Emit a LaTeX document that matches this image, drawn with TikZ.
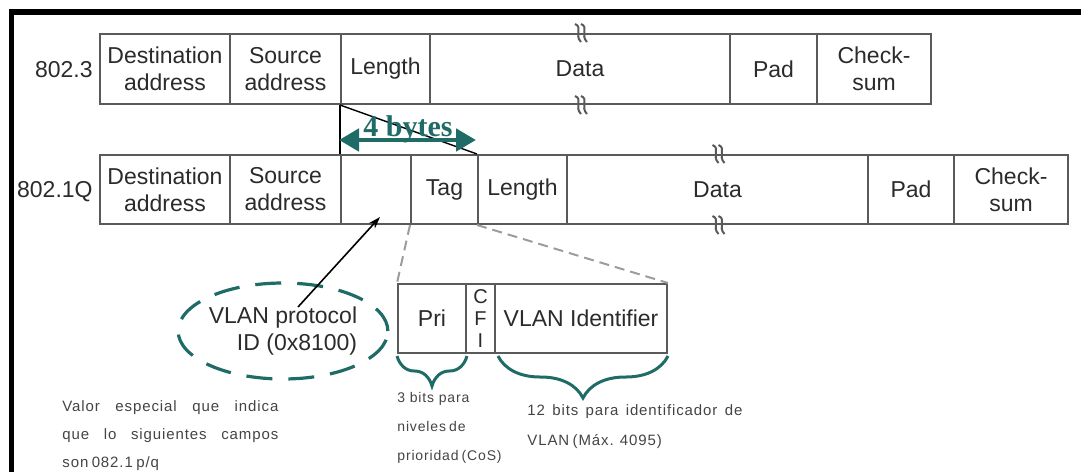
\documentclass[tikz,border=0pt]{standalone}
\usepackage{fontspec}
\setmainfont{Liberation Sans}
\newfontfamily\bytefont{Liberation Serif}
\newfontfamily\notefont[LetterSpace=6]{Liberation Sans}
\usepackage{tikz}
\usetikzlibrary{arrows.meta, positioning, shapes.geometric, decorations.pathreplacing}
\definecolor{tagteal}{HTML}{1F6B66}
\definecolor{fieldline}{HTML}{5A5A5A}
\definecolor{fieldtext}{HTML}{2B2B2B}
\definecolor{notetext}{HTML}{444444}
\definecolor{zoomgrey}{HTML}{9C9C9C}
\tikzset{
  field/.style={rectangle, draw=fieldline, line width=1pt, fill=white,
                inner sep=0pt, align=center, text=fieldtext,
                font=\fontsize{11.5}{13.5}\selectfont},
  row1/.style={field, minimum height=35pt},
  row2/.style={field, minimum height=34.5pt},
  rowlab/.style={anchor=east, inner sep=0pt, text=fieldtext,
                 font=\fontsize{11.5}{13.5}\selectfont},
  brk/.style={line width=1pt, fieldline},
  bytearrow/.style={{Triangle[length=10pt,width=11pt]}-{Triangle[length=10pt,width=11pt]},
                    line width=2.4pt, tagteal},
  idarrow/.style={-{Stealth[length=6pt,width=4pt]}, line width=0.8pt, black},
  zoomline/.style={dash pattern=on 5pt off 3pt, line width=1pt, zoomgrey},
  protoell/.style={ellipse, draw=tagteal, line width=1.6pt,
                   dash pattern=on 13pt off 8pt, minimum width=97pt,
                   minimum height=48pt, inner sep=0pt, align=right,
                   text=fieldtext, font=\fontsize{11.5}{13.5}\selectfont},
  tagbrace/.style={decorate, line width=1.5pt, tagteal},
  note/.style={inner sep=0pt, align=left, text=notetext,
               font=\notefont\fontsize{7.5}{14}\selectfont},
  frame/.style={line width=2.9pt, black, line join=miter},
}

\begin{document}
\begin{tikzpicture}[x=0.5pt, y=-0.5pt]
  \useasboundingbox (0,0) rectangle (1081,472);
  \draw[frame] (11.5,472) -- (11.5,12) -- (1081,12);
  % 802.3
  \node[rowlab] (lab1) at (93,70) {802.3};
  \node[row1, minimum width=65pt] (dst1) at (165,69) {Destination\\address};
  \node[row1, minimum width=55.5pt] (src1) at (285.5,69) {Source\\address};
  \node[row1, minimum width=44.5pt] (len1) at (385.5,69) {Length};
  \node[row1, minimum width=150pt] (data1) at (580,69) {Data};
  \node[row1, minimum width=43.5pt] (pad1) at (773.5,69) {Pad};
  \node[row1, minimum width=57pt] (chk1) at (874,69) {Check-\\sum};
  % 802.1Q
  \node[rowlab] (lab2) at (93,192) {802.1Q};
  \node[row2, minimum width=65pt] (dst2) at (165,189.5) {Destination\\address};
  \node[row2, minimum width=55.5pt] (src2) at (285.5,189.5) {Source\\address};
  \node[row2, minimum width=35pt] (blank2) at (376,189.5) {};
  \node[row2, minimum width=33.5pt] (tag2) at (444.5,189.5) {Tag};
  \node[row2, minimum width=44.5pt] (len2) at (522.5,189.5) {Length};
  \node[row2, minimum width=150.5pt] (data2) at (717.5,189.5) {Data};
  \node[row2, minimum width=43pt] (pad2) at (911,189.5) {Pad};
  \node[row2, minimum width=57pt] (chk2) at (1011,189.5) {Check-\\sum};
  % breaks in the data fields
  \foreach \nd in {data1.north, data1.south, data2.north, data2.south} {
    \draw[brk] ([shift={(-5,-9)}]\nd) .. controls ([shift={(3,-6)}]\nd)
      and ([shift={(-6,2)}]\nd) .. ([shift={(1,9)}]\nd);
    \draw[brk] ([shift={(1,-9)}]\nd) .. controls ([shift={(9,-6)}]\nd)
      and ([shift={(0,2)}]\nd) .. ([shift={(7,9)}]\nd);
  }
  % 4 bytes inserted
  \draw[line width=0.7pt] (len1.south west) -- (blank2.north west);
  \draw[line width=0.7pt] (len1.south west) -- (len2.north west);
  \coordinate (fourL) at (339,140);
  \coordinate (fourR) at (476,140);
  \draw[bytearrow] (fourL) -- (fourR);
  \node[font=\bytefont\bfseries\fontsize{15}{15}\selectfont, text=tagteal,
        inner sep=0pt] (fourlab) at (408,129) {4 bytes};
  % tag fields
  \node[field, minimum height=34.5pt, minimum width=34pt] (pri) at (432,318.5) {Pri};
  \node[field, minimum height=34.5pt, minimum width=14.5pt,
        font=\fontsize{10}{11}\selectfont] (cfi) at (480.5,318.5) {C\\F\\I};
  \node[field, minimum height=34.5pt, minimum width=86pt] (vid) at (581,318.5) {VLAN Identifier};
  \draw[zoomline] (tag2.south west) -- (pri.north west);
  \draw[zoomline] (len2.south west) -- (vid.north east);
  \draw[tagbrace, decoration={brace, mirror, amplitude=15pt, raise=1pt}]
    (pri.south west) -- (pri.south east);
  \draw[tagbrace, decoration={brace, mirror, amplitude=21pt, raise=1pt}]
    ([xshift=2pt]vid.south west) -- (vid.south east);
  % protocol id
  \node[protoell] (protoid) at (283,331) {VLAN protocol\\ID (0x8100)};
  \coordinate (idtail) at (298,307);
  \draw[idarrow] (idtail) -- ([shift={(4,-8)}]blank2.south);
  % notes
  \node[note, anchor=north west] (valnote) at (62,400)
    {\makebox[108pt][s]{Valor especial que indica}\\
     \makebox[108pt][s]{que lo siguientes campos}\\
     \makebox[48pt][s]{son 082.1 p/q}};
  \node[note, anchor=north west, font=\notefont\fontsize{7}{14.5}\selectfont]
    (prinote) at (397,392)
    {\makebox[36pt][s]{3 bits para}\\
     \makebox[30pt][s]{niveles de}\\
     \makebox[45pt][s]{prioridad (CoS)}};
  \node[note, anchor=north west, font=\notefont\fontsize{7.5}{15}\selectfont]
    (vidnote) at (527,404)
    {\makebox[107.5pt][s]{12 bits para identificador de}\\
     \makebox[57pt][s]{VLAN (Máx. 4095)}};
\end{tikzpicture}
\end{document}
